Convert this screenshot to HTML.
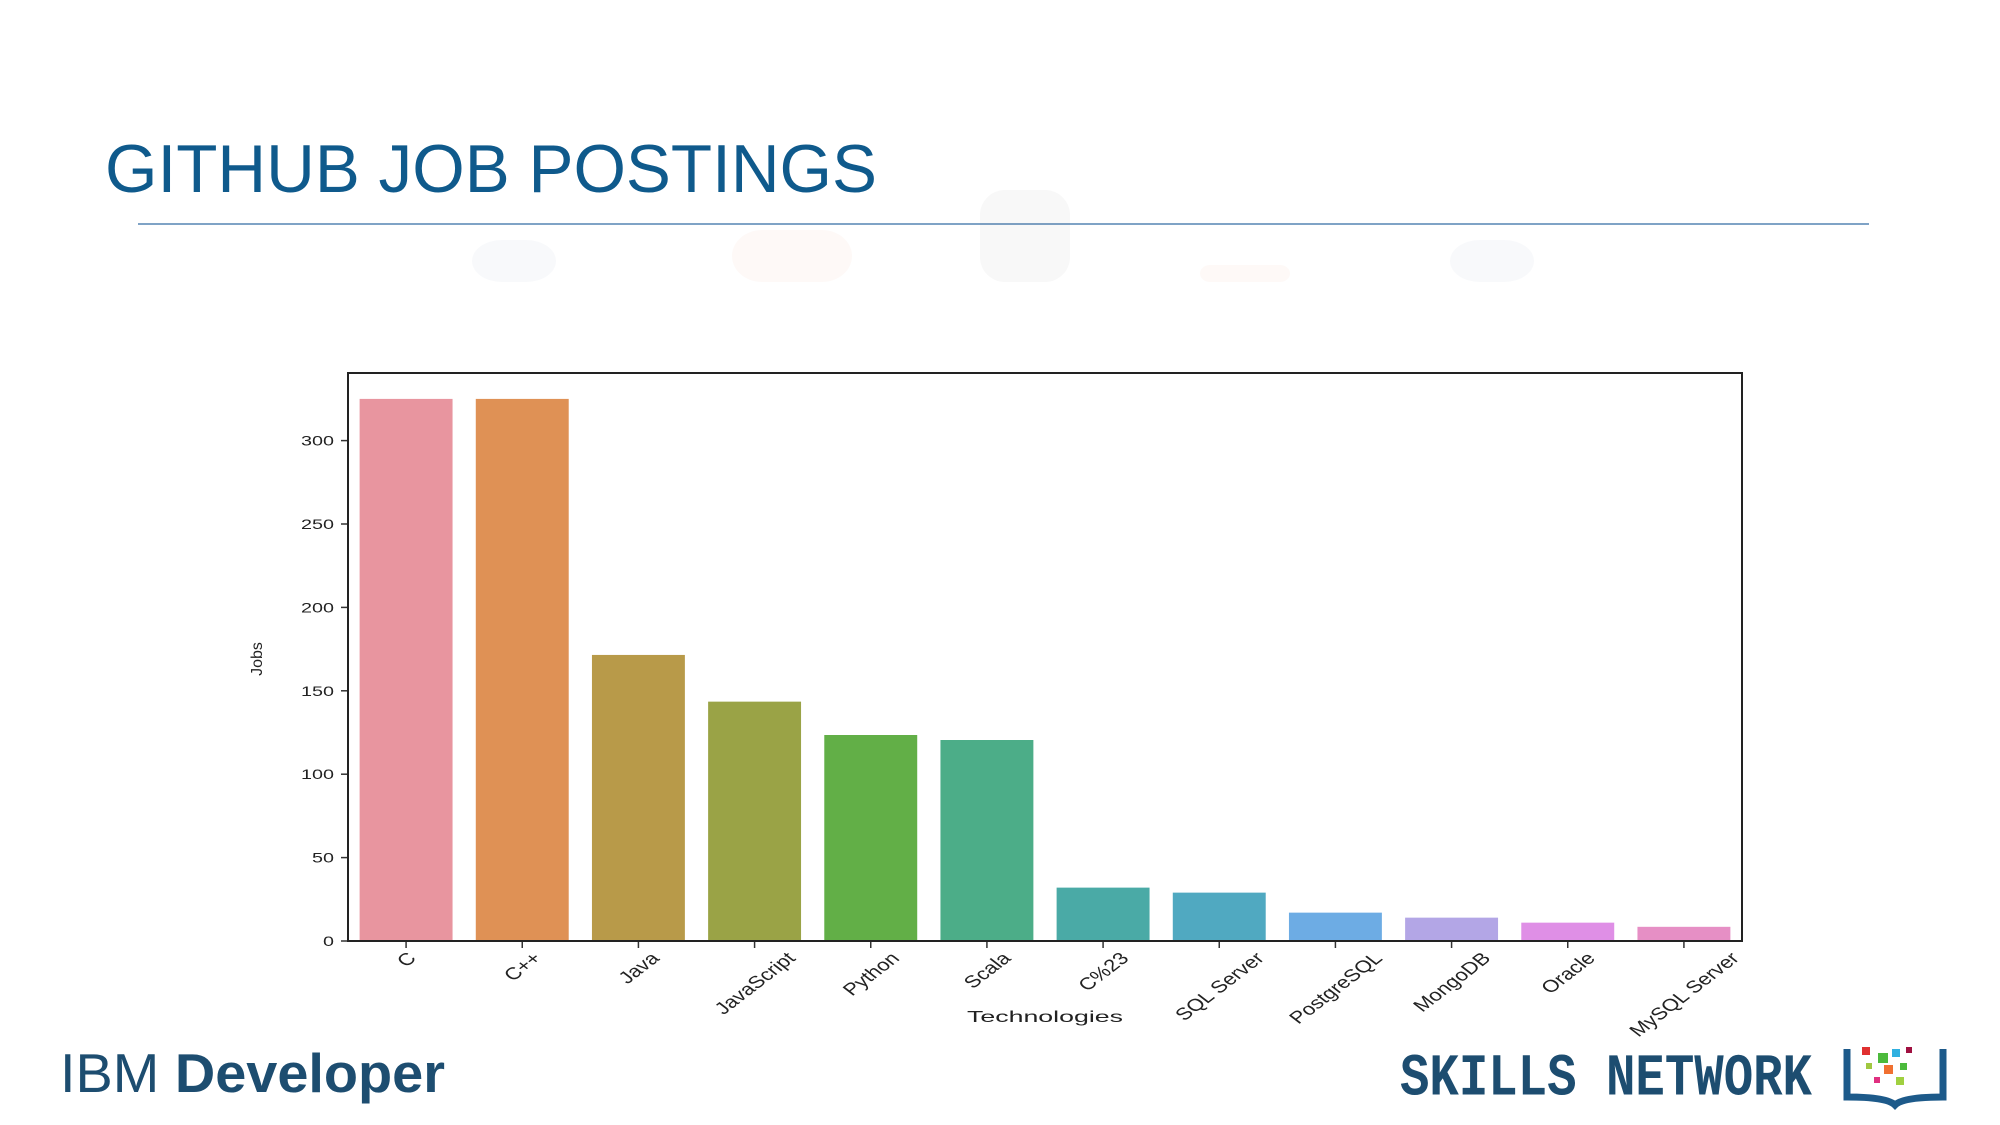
<!DOCTYPE html>
<html><head><meta charset="utf-8"><style>
html,body{margin:0;padding:0;background:#fff;}
svg{display:block;font-family:"Liberation Sans",sans-serif;}
</style></head><body>
<svg id="s" width="2000" height="1125" viewBox="0 0 2000 1125" xmlns="http://www.w3.org/2000/svg">
<text x="105" y="192" font-size="68" fill="#0f5a8c" textLength="772" lengthAdjust="spacingAndGlyphs">GITHUB JOB POSTINGS</text>
<line x1="138" y1="224" x2="1869" y2="224" stroke="#7fa3c6" stroke-width="2"/>
<g opacity="0.04">
<rect x="472" y="240" width="84" height="42" rx="30" fill="#4a6fa5"/>
<rect x="732" y="230" width="120" height="52" rx="30" fill="#d9602f"/>
<rect x="980" y="190" width="90" height="92" rx="25" fill="#555"/>
<rect x="1200" y="265" width="90" height="17" rx="10" fill="#d9602f"/>
<rect x="1450" y="240" width="84" height="42" rx="30" fill="#4a6fa5"/>
</g>
<g id="chart"></g>
<text x="60" y="1092" font-size="55" fill="#1d4d70" textLength="385" lengthAdjust="spacingAndGlyphs"><tspan font-weight="normal">IBM </tspan><tspan font-weight="bold">Developer</tspan></text>
<text x="1400" y="1076" font-family="Liberation Mono, monospace" font-weight="bold" font-size="54" fill="#1d4d70" textLength="412" lengthAdjust="spacingAndGlyphs" transform="translate(0,-89) scale(1,1.1)">SKILLS NETWORK</text>
<g transform="translate(0,-3)">
<path d="M1847 1052 v48 q40 0 48 8 q8 -8 48 -8 v-48" fill="none" stroke="#1d5a8a" stroke-width="7"/>
<rect x="1862" y="1050" width="8" height="8" fill="#e03030"/><rect x="1878" y="1056" width="10" height="10" fill="#4cba3c"/>
<rect x="1892" y="1052" width="8" height="8" fill="#30b0e0"/><rect x="1884" y="1068" width="9" height="9" fill="#f07030"/>
<rect x="1900" y="1066" width="7" height="7" fill="#4cba3c"/><rect x="1866" y="1066" width="6" height="6" fill="#a0c840"/>
<rect x="1874" y="1080" width="6" height="6" fill="#e03080"/><rect x="1896" y="1080" width="8" height="8" fill="#a0d040"/>
<rect x="1906" y="1050" width="6" height="6" fill="#a01040"/>
</g>
</svg>
<script>
const categories=["C","C++","Java","JavaScript","Python","Scala","C%23","SQL Server","PostgreSQL","MongoDB","Oracle","MySQL Server"];
const jobs=[325,325,171.5,143.5,123.5,120.5,32,29,17,14,11,8.5];
const colors=["#e8959f","#df9155","#b89a49","#9aa346","#62af47","#4cad88","#4aaaa6","#50a9c1","#6dace4","#b3a6e6","#df8fe6","#e68fc5"];
const yTicks=[0,50,100,150,200,250,300];
const NS="http://www.w3.org/2000/svg";
const g=document.getElementById('chart');
const L=348,R=1742,T=373,B=941;
const x=i=>L+(i+0.5)*(R-L)/categories.length;
const y=v=>B-v*1.668;
const bw=0.8*(R-L)/categories.length;
function mk(tag,attrs){const e=document.createElementNS(NS,tag);for(const k in attrs)e.setAttribute(k,attrs[k]);g.appendChild(e);return e;}
categories.forEach((c,i)=>{
 const r=mk('rect',{x:x(i)-bw/2,y:y(jobs[i]),width:bw,height:B-y(jobs[i]),fill:colors[i]});
 
 
 const t=mk('line',{x1:x(i),y1:B,x2:x(i),y2:B+7,stroke:'#333','stroke-width':1.5});
 
 
 const l=mk('text',{x:0,y:6,'font-size':17,fill:'#222','text-anchor':'middle'});
 l.textContent=c;
 const w=l.getComputedTextLength();
 const cy=B+8+(w+17)*0.707/2;
 l.setAttribute('transform',`translate(${x(i)} ${cy}) scale(1.3 1) rotate(-45)`);
 
 
});
yTicks.forEach(v=>{
 const t=mk('line',{x1:L-7,y1:y(v),x2:L,y2:y(v),stroke:'#333','stroke-width':1.5});
 
 
 const l=mk('text',{x:L-14,y:y(v)+5,'font-size':14,fill:'#222','text-anchor':'end','textLength':String(v).length*11,'lengthAdjust':'spacingAndGlyphs'});
 l.textContent=v;
 
 
});
const f=mk('rect',{x:L,y:T,width:R-L,height:B-T,fill:'none',stroke:'#222','stroke-width':2});


const xl=mk('text',{x:(L+R)/2,y:1022,'font-size':16,fill:'#222','text-anchor':'middle','textLength':156,'lengthAdjust':'spacingAndGlyphs'});
xl.textContent='Technologies';


const yl=mk('text',{x:0,y:0,'font-size':16,fill:'#222','text-anchor':'middle',transform:'translate(262,659) rotate(-90)'});
yl.textContent='Jobs';


</script>
</body></html>
